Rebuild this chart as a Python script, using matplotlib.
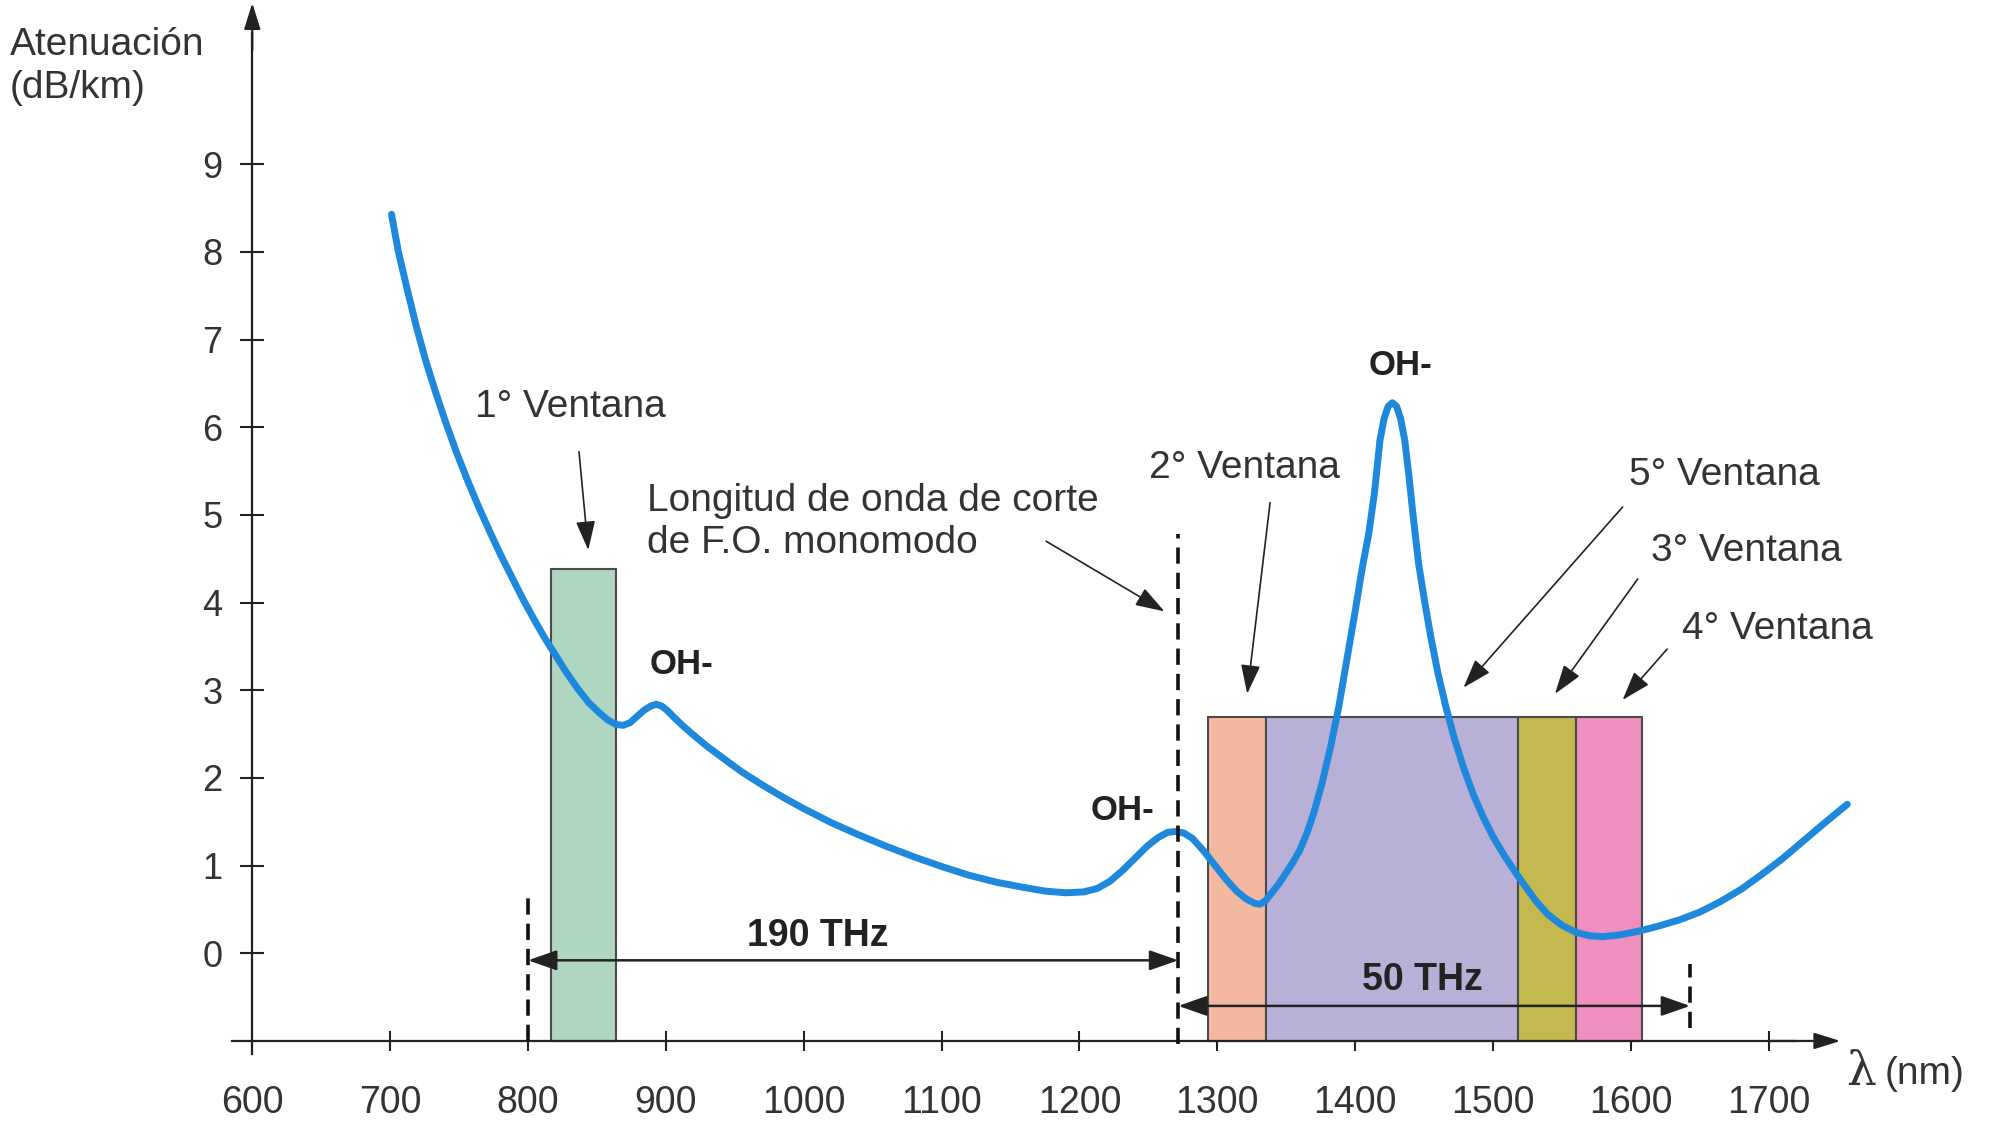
import matplotlib
matplotlib.use('Agg')
import matplotlib.pyplot as plt

plt.rcParams['font.family'] = ['Liberation Sans', 'DejaVu Sans']

# curva de atenuación (nm, dB/km)
wavelength = [701, 706, 712, 719, 726, 733, 740, 748, 756, 764, 772, 780, 788, 796,
              804, 812, 820, 828, 836, 844, 852, 858, 864, 869, 874, 879, 884, 889,
              893, 897, 901, 906, 912, 920, 930, 942, 955, 970, 985, 1000, 1020,
              1040, 1060, 1080, 1100, 1120, 1140, 1160, 1175, 1190, 1203, 1213,
              1222, 1231, 1240, 1249, 1257, 1264, 1270, 1276, 1282, 1290, 1298,
              1306, 1314, 1321, 1327, 1331, 1335, 1340, 1345, 1350, 1355, 1360,
              1365, 1370, 1376, 1382, 1388, 1394, 1400, 1405, 1410, 1414, 1418,
              1421, 1424, 1427, 1430, 1433, 1436, 1439, 1442, 1446, 1450, 1455,
              1460, 1466, 1472, 1479, 1486, 1493, 1500, 1508, 1516, 1524, 1532,
              1540, 1550, 1560, 1570, 1580, 1592, 1605, 1620, 1635, 1650, 1665,
              1680, 1695, 1710, 1725, 1740, 1757]
attenuation = [8.43, 8.0, 7.6, 7.15, 6.75, 6.4, 6.07, 5.72, 5.4, 5.1, 4.82, 4.55, 4.3, 4.05,
               3.82, 3.6, 3.4, 3.2, 3.02, 2.86, 2.74, 2.66, 2.61, 2.6, 2.63, 2.7, 2.77, 2.82,
               2.84, 2.82, 2.77, 2.69, 2.6, 2.49, 2.36, 2.22, 2.07, 1.92, 1.78, 1.65, 1.49,
               1.35, 1.22, 1.1, 0.99, 0.89, 0.81, 0.75, 0.71, 0.69, 0.70, 0.74,
               0.82, 0.94, 1.08, 1.22, 1.32, 1.38, 1.39, 1.37, 1.31, 1.17, 1.01,
               0.85, 0.71, 0.62, 0.57, 0.56, 0.6, 0.7, 0.8, 0.92, 1.04, 1.18,
               1.37, 1.6, 1.94, 2.34, 2.8, 3.35, 3.9, 4.38, 4.8, 5.25, 5.85,
               6.1, 6.24, 6.28, 6.24, 6.1, 5.85, 5.45, 5.0, 4.45, 4.05, 3.6,
               3.2, 2.8, 2.45, 2.1, 1.8, 1.55, 1.33, 1.12, 0.93, 0.75, 0.58,
               0.44, 0.32, 0.24, 0.2, 0.19, 0.21, 0.25, 0.31, 0.38, 0.47, 0.59,
               0.73, 0.9, 1.08, 1.28, 1.48, 1.7]

# ventanas
window_start = [817, 1293, 1335, 1518, 1560]
window_end = [864, 1335, 1518, 1560, 1608]
window_top = [4.38, 2.7, 2.7, 2.7, 2.7]
window_colors = ['#aed6c1', '#f2b9a0', '#b9b0d8', '#c4b94f', '#ee8fbf']

x_ticks = [600, 700, 800, 900, 1000, 1100, 1200, 1300, 1400, 1500, 1600, 1700]
y_ticks = [0, 1, 2, 3, 4, 5, 6, 7, 8, 9]

txt = '#333333'

fig = plt.figure(figsize=(19.97, 11.31), dpi=100)
ax = fig.add_axes([0, 0, 1, 1])
ax.set_xlim(417.0, 1865.6)
ax.set_ylim(-2.027, 10.874)

# ejes en cruz
for s in ['top', 'right']:
    ax.spines[s].set_visible(False)
ax.spines['left'].set_position(('data', 600))
ax.spines['bottom'].set_position(('data', -1))
ax.spines['left'].set_bounds(-1.15, 10.5)
ax.spines['bottom'].set_bounds(585, 1720)
for s in ['left', 'bottom']:
    ax.spines[s].set_linewidth(1.6)
    ax.spines[s].set_color('#222222')
ax.annotate('', xy=(600, 10.84), xytext=(600, 10.3),
            arrowprops=dict(arrowstyle='-|>,head_length=0.8,head_width=0.25',
                            mutation_scale=20, lw=1.6, color='#222222',
                            shrinkA=0, shrinkB=0))
ax.annotate('', xy=(1752, -1), xytext=(1700, -1),
            arrowprops=dict(arrowstyle='-|>,head_length=0.8,head_width=0.25',
                            mutation_scale=20, lw=1.6, color='#222222',
                            shrinkA=0, shrinkB=0))

ax.set_xticks(x_ticks)
ax.set_yticks(y_ticks)
ax.tick_params(axis='x', direction='inout', length=14, width=1.5, pad=25,
               labelsize=27, labelcolor=txt, color='#222222')
ax.tick_params(axis='y', direction='inout', length=17, width=1.5, pad=13,
               labelsize=26, labelcolor=txt, color='#222222')

# ventanas (rectángulos)
heights = [t + 1 for t in window_top]
widths = [e - s for s, e in zip(window_start, window_end)]
ax.bar(window_start, heights, width=widths, bottom=-1, align='edge',
       color=window_colors, edgecolor='#4a4a4a', linewidth=1.5, zorder=2)

# curva
ax.plot(wavelength, attenuation, color='#1e88dc', lw=5, zorder=3,
        solid_capstyle='round', solid_joinstyle='round')

# líneas discontinuas
dash = (0, (4.5, 2.5))
ax.plot([800, 800], [-1, 0.64], color='#111111', lw=2.6, ls=dash, zorder=4)
ax.plot([1271.7, 1271.7], [-1.03, 4.78], color='#111111', lw=2.6, ls=dash, zorder=4)
ax.plot([1643, 1643], [-0.85, -0.12], color='#111111', lw=2.6, ls=dash, zorder=4)

# flechas de ancho de banda
band = dict(arrowstyle='<|-|>,head_length=0.8,head_width=0.28', mutation_scale=22,
            lw=1.8, color='#222222', shrinkA=0, shrinkB=0)
ax.annotate('', xy=(800, -0.08), xytext=(1271.7, -0.08), arrowprops=band, zorder=5)
ax.annotate('', xy=(1271.7, -0.6), xytext=(1643, -0.6), arrowprops=band, zorder=5)
ax.text(1010, 0.2, '190 THz', fontsize=27, fontweight='bold', color='#222222',
        ha='center', va='center', zorder=6)
ax.text(1449, -0.3, '50 THz', fontsize=27, fontweight='bold', color='#222222',
        ha='center', va='center', zorder=6)

# etiquetas OH-
ax.text(911, 3.29, 'OH-', fontsize=25, fontweight='bold', color='#222222',
        ha='center', va='center')
ax.text(1231, 1.63, 'OH-', fontsize=25, fontweight='bold', color='#222222',
        ha='center', va='center')
ax.text(1432.6, 6.71, 'OH-', fontsize=25, fontweight='bold', color='#222222',
        ha='center', va='center')

# ventanas: textos y flechas
arrow = dict(arrowstyle='-|>,head_length=0.9,head_width=0.3', mutation_scale=20,
             lw=1.2, color='#222222', shrinkA=0, shrinkB=0)
labels = [('1° Ventana', (830.7, 6.23), (837, 5.72), (843.7, 4.6)),
          ('2° Ventana', (1320, 5.53), (1338.3, 5.14), (1321.7, 2.96)),
          ('5° Ventana', (1668, 5.46), (1594, 5.09), (1478.6, 3.03)),
          ('3° Ventana', (1683.5, 4.59), (1605, 4.27), (1545, 2.96)),
          ('4° Ventana', (1706.6, 3.70), (1626.3, 3.47), (1594, 2.89))]
for name, pos, a0, a1 in labels:
    ax.text(pos[0], pos[1], name, fontsize=28, color=txt, ha='center', va='center')
    ax.annotate('', xy=a1, xytext=a0, arrowprops=arrow)

ax.text(886, 4.92, 'Longitud de onda de corte\nde F.O. monomodo', fontsize=28,
        color=txt, ha='left', va='center', linespacing=1.22)
ax.annotate('', xy=(1261.7, 3.9), xytext=(1175.9, 4.7), arrowprops=arrow)

# títulos de ejes
ax.text(424, 10.12, 'Atenuación\n(dB/km)', fontsize=28, color=txt,
        ha='left', va='center', linespacing=1.25)
ax.text(1756, -1.36, 'λ', fontsize=34, color=txt, ha='left', va='center',
        family=['DejaVu Serif'])
ax.text(1784, -1.38, '(nm)', fontsize=28, color=txt, ha='left', va='center')

plt.savefig('out.png', dpi=100)
